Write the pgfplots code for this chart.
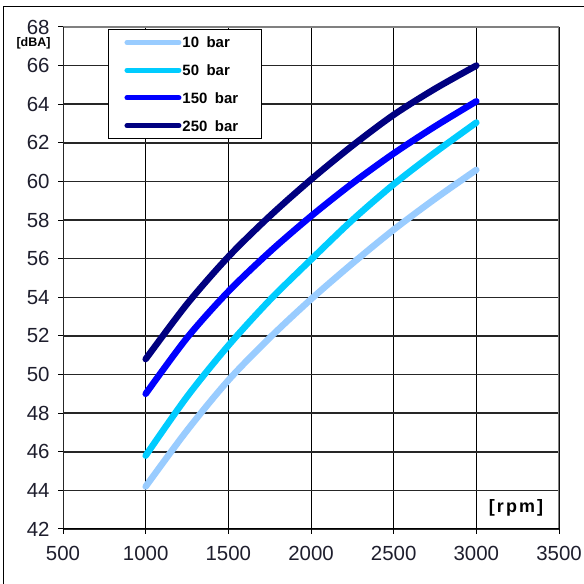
\documentclass[border=0pt]{standalone}
\usepackage{fontspec}
\setmainfont{Liberation Sans}
\usepackage{pgfplots}
\pgfplotsset{compat=1.18}
\definecolor{c10}{RGB}{153,204,255}
\definecolor{c50}{RGB}{0,204,255}
\definecolor{c150}{RGB}{0,0,255}
\definecolor{c250}{RGB}{0,0,128}
\definecolor{tick}{RGB}{30,30,45}
\begin{document}
\begin{tikzpicture}[x=1bp,y=1bp]
\useasboundingbox (0,0) rectangle (584,584);
\fill[white] (0,0) rectangle (584,584);
\draw[line width=1.5bp] (3.5,0) -- (3.5,577.5) -- (584,577.5);
\begin{axis}[
  at={(63bp,55bp)}, anchor=south west,
  scale only axis, width=496bp, height=502bp,
  xmin=500, xmax=3500, ymin=42, ymax=68,
  xtick={500,1000,...,3500}, ytick={42,44,...,68},
  xtick pos=bottom, ytick pos=left,
  tick align=outside, major tick length=5bp,
  tick style={black, line width=1bp},
  axis line style={draw=none},
  xmajorgrids, ymajorgrids,
  x grid style={black, line width=1bp},
  y grid style={black!85, line width=1.6bp},
  /pgf/number format/assume math mode=true,
  /pgf/number format/set thousands separator={},
  scaled ticks=false,
  ticklabel style={font=\fontsize{20.5}{24}\selectfont, text=tick},
  yticklabel style={xshift=-5bp},
  xticklabel style={yshift=-9bp},
  legend style={at={(axis description cs:0.0907,0.996)}, anchor=north west,
    draw=black, line width=1bp, fill=white,
    inner xsep=16bp, inner ysep=6.5bp, row sep=14.7bp,
    font=\fontsize{15}{18}\selectfont\bfseries,
    nodes={inner xsep=1bp, inner ysep=1bp, text height=11bp, text depth=0bp, text width=62bp},
    cells={anchor=west}},
  legend image code/.code={\draw[#1, line width=5bp, line cap=round] (0bp,0bp) -- (52bp,0bp);},
]
\addplot[c10, line width=6.5bp, line cap=round, smooth] coordinates {
 (1000,44.2) (1250,47.1) (1500,49.7) (1750,51.9) (2000,53.9) (2250,55.75) (2500,57.5) (2750,59.1) (3000,60.6)};
\addlegendentry{10\enspace bar}
\addplot[c50, line width=6.5bp, line cap=round, smooth] coordinates {
 (1000,45.8) (1250,48.85) (1500,51.5) (1750,53.85) (2000,55.95) (2250,58.0) (2500,59.85) (2750,61.5) (3000,63.05)};
\addlegendentry{50\enspace bar}
\addplot[c150, line width=6.5bp, line cap=round, smooth] coordinates {
 (1000,49.0) (1250,51.9) (1500,54.3) (1750,56.35) (2000,58.2) (2250,59.9) (2500,61.45) (2750,62.85) (3000,64.15)};
\addlegendentry{150\enspace bar}
\addplot[c250, line width=6.5bp, line cap=round, smooth] coordinates {
 (1000,50.8) (1250,53.65) (1500,56.1) (1750,58.2) (2000,60.1) (2250,61.85) (2500,63.45) (2750,64.8) (3000,66.0)};
\addlegendentry{250\enspace bar}
\draw[gray, line width=2bp] (rel axis cs:0,1) -- (rel axis cs:1,1) -- (rel axis cs:1,0);
\draw[black!85, line width=2bp] (rel axis cs:0,1) -- (rel axis cs:0,0);
\draw[black, line width=2.2bp] (rel axis cs:0,0) -- (rel axis cs:1,0);
\node[font=\fontsize{18}{21}\selectfont\bfseries\addfontfeatures{LetterSpace=12}] at (axis cs:3240,43.11) {[rpm]};
\end{axis}
\node[font=\fontsize{12.5}{15}\selectfont\bfseries] at (33.5,541) {[dBA]};
\end{tikzpicture}
\end{document}
